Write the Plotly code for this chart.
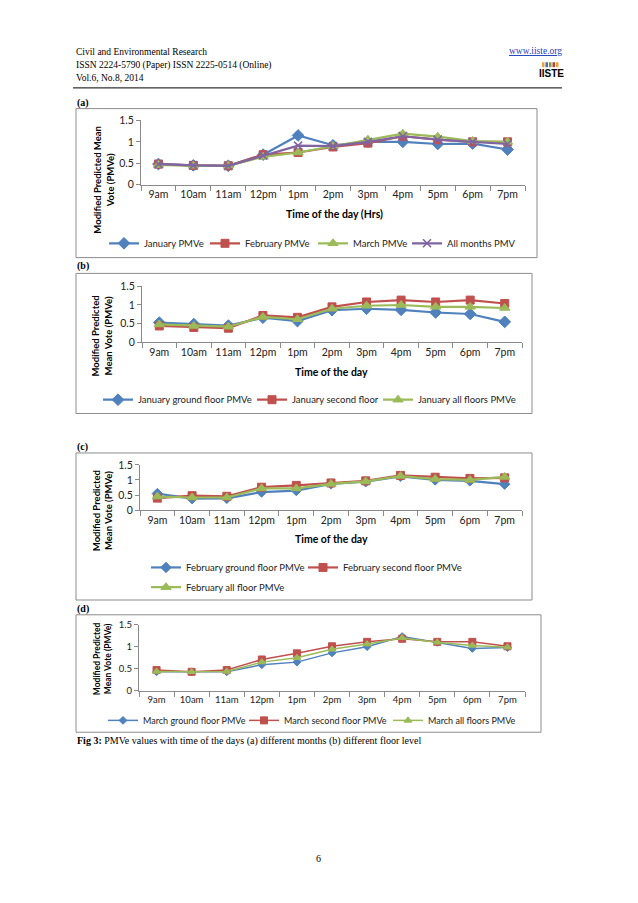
import plotly.graph_objects as go

W, H = 638, 903

hours = ["9am", "10am", "11am", "12pm", "1pm", "2pm", "3pm", "4pm", "5pm", "6pm", "7pm"]
y_ticks = [0, 0.5, 1, 1.5]
y_ticktext = ["0", "0.5", "1", "1.5"]

# (a) different months
jan_pmve = [0.48, 0.45, 0.44, 0.70, 1.15, 0.92, 1.00, 1.00, 0.95, 0.96, 0.82]
feb_pmve = [0.48, 0.45, 0.44, 0.70, 0.75, 0.88, 0.97, 1.13, 1.05, 1.00, 1.00]
mar_pmve = [0.46, 0.44, 0.44, 0.65, 0.75, 0.90, 1.05, 1.19, 1.12, 1.02, 1.00]
all_pmv = [0.48, 0.45, 0.44, 0.68, 0.91, 0.90, 1.00, 1.13, 1.05, 1.00, 0.95]

# (b) January floors
jan_ground = [0.53, 0.49, 0.45, 0.66, 0.57, 0.86, 0.90, 0.87, 0.80, 0.76, 0.55]
jan_second = [0.44, 0.40, 0.38, 0.72, 0.67, 0.95, 1.08, 1.13, 1.08, 1.13, 1.04]
jan_all = [0.48, 0.44, 0.42, 0.68, 0.62, 0.90, 0.98, 1.00, 0.95, 0.95, 0.92]

# (c) February floors
feb_ground = [0.55, 0.38, 0.39, 0.60, 0.65, 0.87, 0.94, 1.12, 1.00, 0.97, 0.86]
feb_second = [0.40, 0.48, 0.46, 0.76, 0.82, 0.90, 0.97, 1.15, 1.09, 1.05, 1.07]
feb_all = [0.45, 0.42, 0.42, 0.72, 0.72, 0.87, 0.95, 1.13, 1.03, 1.00, 1.10]

# (d) March floors
mar_ground = [0.43, 0.43, 0.43, 0.59, 0.65, 0.86, 1.00, 1.23, 1.10, 0.96, 0.98]
mar_second = [0.47, 0.43, 0.47, 0.71, 0.85, 1.01, 1.11, 1.18, 1.11, 1.11, 1.01]
mar_all = [0.44, 0.43, 0.44, 0.65, 0.75, 0.94, 1.06, 1.20, 1.10, 1.03, 0.99]

BLUE, RED, GREEN, PURPLE = "#4F81BD", "#C0504D", "#9BBB59", "#8064A2"
FONT = "Lato"
SERIF = "Liberation Serif"


def X(px):
    return px / W


def Y(py):
    return 1 - py / H


fig = go.Figure()


def add(idx, name, vals, color, symbol, size, legend, lw=2.2, lwidth=None):
    ax = "" if idx == 1 else str(idx)
    marker = dict(symbol=symbol, size=size, color=color, line=dict(color=color, width=1))
    if symbol == "x-thin-open":
        marker = dict(symbol=symbol, size=size, color=color, line=dict(color=color, width=1.6))
    fig.add_trace(go.Scatter(
        x=hours, y=vals, name=name, mode="lines+markers",
        line=dict(color=color, width=lw), marker=marker,
        xaxis="x" + ax, yaxis="y" + ax, legend=legend, cliponaxis=False,
        legendwidth=lwidth,
    ))


add(1, "January PMVe", jan_pmve, BLUE, "diamond", 9, "legend", lwidth=56)
add(1, "February PMVe", feb_pmve, RED, "square", 8, "legend", lwidth=63)
add(1, "March PMVe", mar_pmve, GREEN, "triangle-up", 9, "legend", lwidth=49)
add(1, "All months PMV", all_pmv, PURPLE, "x-thin-open", 8, "legend", lwidth=80)

add(2, "January ground floor PMVe", jan_ground, BLUE, "diamond", 9, "legend2", lwidth=109)
add(2, "January second floor", jan_second, RED, "square", 8, "legend2", lwidth=81)
add(2, "January all floors PMVe", jan_all, GREEN, "triangle-up", 9, "legend2", lwidth=125)

add(3, "February ground floor PMVe", feb_ground, BLUE, "diamond", 8, "legend3", lwidth=112)
add(3, "February second floor PMVe", feb_second, RED, "square", 8, "legend3", lwidth=130)
add(3, "February all floor PMVe", feb_all, GREEN, "triangle-up", 9, "legend5", lwidth=120)

add(4, "March ground floor PMVe", mar_ground, BLUE, "diamond", 6, "legend4", lw=1.5, lwidth=96)
add(4, "March second floor PMVe", mar_second, RED, "square", 7, "legend4", lw=1.5, lwidth=99)
add(4, "March all floors PMVe", mar_all, GREEN, "triangle-up", 7, "legend4", lw=1.5, lwidth=115)

# plot-area pixel boxes: (x0, x1, ytop, ybottom)
areas = {
    1: (141, 525, 116, 181),
    2: (142, 522, 284, 341),
    3: (140, 522, 465, 511),
    4: (139, 525, 627, 694),
}

layout = dict(
    width=W, height=H, margin=dict(l=0, r=0, t=0, b=0),
    paper_bgcolor="white", plot_bgcolor="white",
    font=dict(family=FONT, size=10, color="#222"),
    showlegend=True,
)
for i, (x0, x1, yt, yb) in areas.items():
    ax = "" if i == 1 else str(i)
    fs = 9.5 if i == 4 else 10.5
    layout["xaxis" + ax] = dict(
        domain=[X(x0), X(x1)], anchor="y" + ax, type="category",
        categoryorder="array", categoryarray=hours, range=[-0.5, 10.5],
        showgrid=False, showline=True, linecolor="#8a8a8a", linewidth=1,
        ticks="outside", tickson="boundaries", ticklen=5, tickcolor="#8a8a8a",
        tickangle=0, tickfont=dict(family=FONT, size=fs, color="#222"), fixedrange=True,
    )
    layout["yaxis" + ax] = dict(
        domain=[Y(yb), Y(yt)], anchor="x" + ax, range=[0, 1.5],
        tickvals=y_ticks, ticktext=y_ticktext,
        showgrid=False, zeroline=False, showline=True, linecolor="#8a8a8a", linewidth=1,
        ticks="outside", ticklen=4, tickcolor="#8a8a8a",
        tickfont=dict(family=FONT, size=fs, color="#222"), fixedrange=True,
    )

leg_common = dict(orientation="h", xanchor="left", yanchor="middle",
                  bgcolor="rgba(0,0,0,0)", font=dict(family=FONT, size=9.5, color="#222"),
                  itemwidth=30, tracegroupgap=0)
layout["legend"] = dict(leg_common, x=X(104), y=Y(240.5))
layout["legend2"] = dict(leg_common, x=X(98), y=Y(399))
layout["legend3"] = dict(leg_common, x=X(146), y=Y(569))
layout["legend5"] = dict(leg_common, x=X(146), y=Y(589))
layout["legend4"] = dict(leg_common, x=X(103), y=Y(724), font=dict(family=FONT, size=9, color="#222"))

fig.update_layout(**layout)

# panel boxes
boxes = [(76, 104, 537, 255), (76, 271, 532, 413), (76, 453, 532, 602), (76, 617, 541, 736)]
for (bx0, by0, bx1, by1) in boxes:
    fig.add_shape(type="rect", xref="paper", yref="paper",
                  x0=X(bx0), x1=X(bx1), y0=Y(by1), y1=Y(by0),
                  line=dict(color="#8c8c8c", width=1), fillcolor="rgba(0,0,0,0)", layer="below")

# header rule
fig.add_shape(type="line", xref="paper", yref="paper", x0=X(73), x1=X(562), y0=Y(83), y1=Y(83),
              line=dict(color="black", width=1))

ann = []


def text(px, py, s, size=10, family=SERIF, anchor="left", color="black", angle=0):
    ann.append(dict(x=X(px), y=Y(py), xref="paper", yref="paper", text=s, showarrow=False,
                    xanchor=anchor, yanchor="middle", textangle=angle,
                    font=dict(family=family, size=size, color=color)))


text(74, 47, "Civil and Environmental Research", 9.5)
text(74, 60, "ISSN 2224-5790 (Paper) ISSN 2225-0514 (Online)", 9.5)
text(74, 73, "Vol.6, No.8, 2014", 9.5)
text(564, 46, "<u>www.iiste.org</u>", 9.5, anchor="right", color="#1f3fbf")
text(551, 68, "<b>IISTE</b>", 10, family="Liberation Sans Narrow, Liberation Sans", anchor="center")
logo_cols = ["#e8a33b", "#3b6fc2", "#7a9e3a", "#c23b3b", "#e8a33b"]
for k, c in enumerate(logo_cols):
    fig.add_shape(type="rect", xref="paper", yref="paper",
                  x0=X(542 + k * 3.5), x1=X(544.5 + k * 3.5), y0=Y(62), y1=Y(57),
                  line=dict(width=0), fillcolor=c)

text(75, 98, "<b>(a)</b>", 10)
text(75, 263, "<b>(b)</b>", 10)
text(75, 447, "<b>(c)</b>", 10)
text(75, 611, "<b>(d)</b>", 10)

# axis titles
text(104, 176, "<b>Modified Predicted Mean<br>Vote (PMVe)</b>", 9.5, family=FONT, anchor="center", angle=-90)
text(102, 335, "<b>Modified Predicted<br>Mean Vote (PMVe)</b>", 9.5, family=FONT, anchor="center", angle=-90)
text(102, 512, "<b>Modified Predicted<br>Mean Vote (PMVe)</b>", 9.5, family=FONT, anchor="center", angle=-90)
text(102, 662, "<b>Modified Predicted<br>Mean Vote (PMVe)</b>", 8.5, family=FONT, anchor="center", angle=-90)
text(334, 211, "<b>Time of the day (Hrs)</b>", 10.5, family=FONT, anchor="center")
text(331, 371, "<b>Time of the day</b>", 10.5, family=FONT, anchor="center")
text(331, 540, "<b>Time of the day</b>", 10.5, family=FONT, anchor="center")

text(75, 745, "<b>Fig 3:</b> PMVe values with time of the days (a) different months (b) different floor level", 10)
text(318, 864, "6", 10, anchor="center")

fig.update_layout(annotations=ann)
fig.write_html("out.html", config={"displayModeBar": False},
               post_script="document.body.style.margin='0';document.body.style.overflow='hidden';")
